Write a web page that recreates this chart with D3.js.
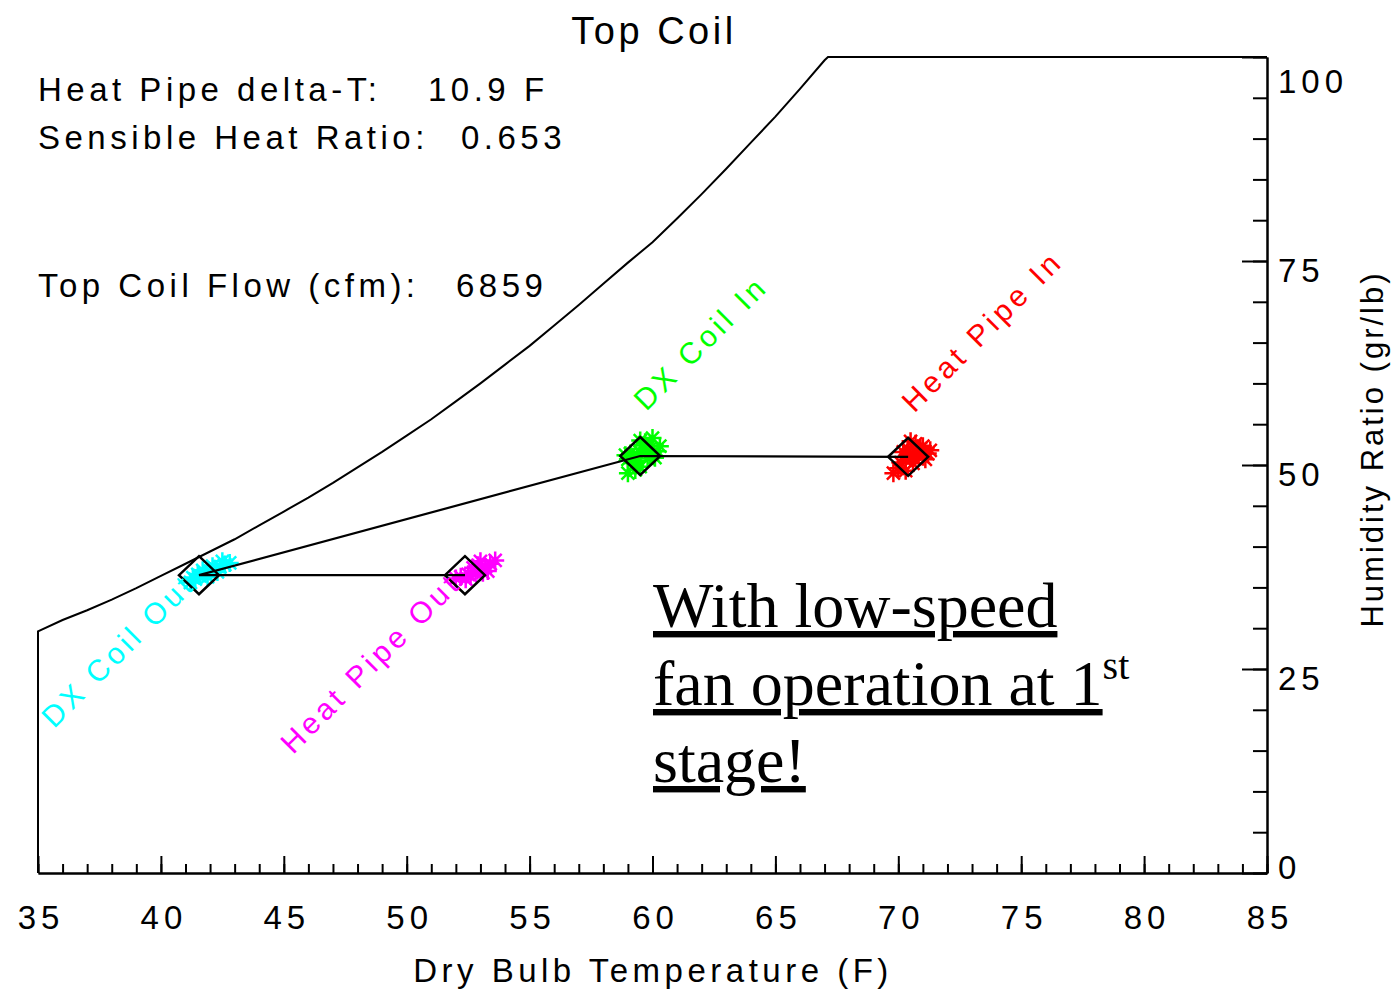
<!DOCTYPE html>
<html>
<head>
<meta charset="utf-8">
<script src="https://cdn.jsdelivr.net/npm/d3@7"></script>
<style>
  body { margin: 0; background: #fff; }
  svg text { font-family: "Liberation Sans", Arial, sans-serif; fill: #000; }
</style>
</head>
<body>
<div id="chart"></div>
<script>
// saturation curve (dry bulb F, gr/lb)
const satTemps = [35, 36, 37, 38, 39, 40, 41, 42, 43, 44, 45, 46, 47, 48, 49, 50, 51,
  52, 53, 54, 55, 56, 57, 58, 59, 60, 61, 62, 63, 64, 65, 66, 67, 67.14];
const satHumid = [29.6, 31.0, 32.2, 33.5, 34.9, 36.4, 37.9, 39.4, 40.9, 42.6, 44.3, 46.0,
  47.8, 49.7, 51.6, 53.6, 55.6, 57.8, 60.0, 62.3, 64.6, 67.1, 69.6, 72.2, 74.8, 77.3,
  80.2, 83.2, 86.3, 89.5, 92.7, 96.1, 99.6, 100];

// state points
const pointNames = ['Heat Pipe In', 'DX Coil In', 'DX Coil Out', 'Heat Pipe Out'];
const pointTemps = [70.4, 59.5, 41.55, 52.37];
const pointHumid = [51.0, 51.1, 36.5, 36.5];
const pointColors = ['#ff0000', '#00ff00', '#00ffff', '#ff00ff'];

// individual readings around each state point
const readingsHeatPipeIn = [[70.5, 51.2], [70.8, 51.5], [71.0, 51.0], [70.3, 50.6], [70.6, 50.2],
  [71.2, 51.4], [70.9, 52.0], [70.2, 51.6], [70.0, 49.6], [69.8, 49.0], [70.7, 52.6],
  [71.1, 50.7], [70.4, 51.9], [70.6, 50.9], [70.1, 50.3], [71.3, 51.8], [70.5, 52.9],
  [70.3, 49.3], [71.0, 52.3]];
const readingsDxIn = [[59.2, 51.0], [59.5, 51.6], [59.8, 50.8], [59.4, 50.5], [59.7, 51.9],
  [59.1, 51.4], [60.0, 51.3], [59.6, 52.4], [59.3, 50.2], [59.9, 52.0], [59.0, 50.7],
  [60.2, 51.7], [59.5, 49.8], [59.7, 52.8], [58.9, 51.2], [60.1, 50.9], [59.0, 49.0],
  [60.0, 53.3], [59.5, 53.0], [59.3, 49.4], [60.3, 52.3]];
const readingsDxOut = [[41.2, 35.6], [41.4, 36.0], [41.6, 36.4], [41.8, 36.7], [42.0, 37.0],
  [42.2, 37.3], [42.4, 37.5], [42.6, 37.8], [42.8, 38.0], [41.5, 36.6], [41.9, 36.3],
  [42.3, 36.9], [41.7, 37.1], [42.1, 37.6], [41.3, 36.2], [42.5, 38.2]];
const readingsHpOut = [[52.2, 36.3], [52.5, 36.6], [52.8, 36.9], [53.0, 37.2], [53.2, 37.5],
  [53.4, 37.9], [53.6, 38.3], [52.4, 36.0], [52.7, 37.4], [53.1, 36.8], [52.9, 37.7],
  [52.0, 36.1], [52.6, 36.4], [53.3, 37.0], [53.0, 38.2]];
const readings = [readingsHeatPipeIn, readingsDxIn, readingsDxOut, readingsHpOut];

// process path: heat pipe in -> dx in -> dx out -> heat pipe out
const processOrder = [0, 1, 2, 3];

// axes
const xMajorTicks = [35, 40, 45, 50, 55, 60, 65, 70, 75, 80, 85];
const xMinorTicks = d3.range(35, 86, 1);
const yMajorTicks = [0, 25, 50, 75, 100];
const yMinorTicks = d3.range(0, 101, 5);

const infoLabels = ['Heat Pipe delta-T:', 'Sensible Heat Ratio:', 'Top Coil Flow (cfm):'];
const infoValues = ['10.9 F', '0.653', '6859'];

const W = 1395, H = 990;
const svg = d3.select('#chart').append('svg').attr('width', W).attr('height', H);

const x = d3.scaleLinear().domain([35, 85]).range([38, 1267]);
const y = d3.scaleLinear().domain([0, 100]).range([873, 57]);

//Bottom axis, ticks pointing in
const gx = svg.append('g').attr('transform', 'translate(0,' + y(0) + ')');
gx.call(d3.axisBottom(x).tickValues(xMinorTicks).tickSize(-9).tickSizeOuter(0).tickFormat(''));
gx.append('g').call(d3.axisBottom(x).tickValues(xMajorTicks).tickSize(-17).tickSizeOuter(0)
  .tickPadding(33).tickFormat(d3.format('d')));

//Right axis
const gy = svg.append('g').attr('transform', 'translate(' + x(85) + ',0)');
gy.call(d3.axisRight(y).tickValues(yMinorTicks).tickSize(-14).tickSizeOuter(0).tickFormat(''));
gy.append('g').call(d3.axisRight(y).tickValues(yMajorTicks).tickSize(-25).tickSizeOuter(0)
  .tickPadding(11).tickFormat(d3.format('d')));

svg.selectAll('.domain').attr('stroke', '#000').attr('stroke-width', 2);
svg.selectAll('.tick line').attr('stroke', '#000').attr('stroke-width', 2);
svg.selectAll('.tick text')
  .attr('fill', '#000')
  .style('font-family', '"Liberation Sans", Arial, sans-serif')
  .style('font-size', '33px')
  .style('letter-spacing', '5px');
gx.selectAll('.tick text').attr('dx', '2.5px');
// labels sit a little below their tick, the end ones kept inside the frame
gy.selectAll('.tick text').attr('dy', null).attr('y', d => {
  const c = Math.max(80, Math.min(866, y(d) + 8));
  return c - y(d) + 12;
});

// chart frame: left edge, saturation curve, 100 gr/lb cap
const frame = [[35, 0]].concat(satTemps.map((t, i) => [t, satHumid[i]]), [[85, 100]]);
svg.append('path')
  .datum(frame)
  .attr('fill', 'none')
  .attr('stroke', '#000')
  .attr('stroke-width', 2)
  .attr('d', d3.line().x(d => x(d[0])).y(d => y(d[1])));

// readings as asterisks
const star = 'M-9,0L9,0M0,-9L0,9M-6.5,-6.5L6.5,6.5M-6.5,6.5L6.5,-6.5';
readings.forEach((set, k) => {
  svg.append('g').selectAll('path')
    .data(set)
    .join('path')
    .attr('transform', d => 'translate(' + x(d[0]) + ',' + y(d[1]) + ')')
    .attr('d', star)
    .attr('stroke', pointColors[k])
    .attr('stroke-width', 2.5)
    .attr('fill', 'none');
});

// process lines
svg.append('path')
  .datum(processOrder)
  .attr('fill', 'none')
  .attr('stroke', '#000')
  .attr('stroke-width', 2.2)
  .attr('d', d3.line().x(i => x(pointTemps[i])).y(i => y(pointHumid[i])));

// diamonds
svg.append('g').selectAll('path')
  .data(pointNames)
  .join('path')
  .attr('transform', (d, i) => 'translate(' + x(pointTemps[i]) + ',' + y(pointHumid[i]) + ')')
  .attr('d', 'M0,-19L20,0L0,19L-20,0Z')
  .attr('fill', 'none')
  .attr('stroke', '#000')
  .attr('stroke-width', 2.5);

// rotated point labels; "In" labels start above, "Out" labels end at the point
const labelOffset = { 'Heat Pipe In': [6, -43, 'start'], 'DX Coil In': [6, -44, 'start'],
  'DX Coil Out': [-2, 11, 'end'], 'Heat Pipe Out': [-2, 10, 'end'] };
svg.append('g').selectAll('text')
  .data(pointNames)
  .join('text')
  .attr('transform', (d, i) => 'translate(' + (x(pointTemps[i]) + labelOffset[d][0]) + ',' +
    (y(pointHumid[i]) + labelOffset[d][1]) + ') rotate(-45)')
  .attr('text-anchor', d => labelOffset[d][2])
  .style('font-size', '30px')
  .style('letter-spacing', '4px')
  .style('fill', (d, i) => pointColors[i])
  .text(d => d);

// title
svg.append('text')
  .attr('x', 654).attr('y', 44)
  .attr('text-anchor', 'middle')
  .style('font-size', '38px')
  .style('letter-spacing', '3.5px')
  .text('Top Coil');

// info block
const infoY = [101, 149, 297];
const infoValueX = [428, 461, 456];
infoLabels.forEach((t, i) => {
  svg.append('text').attr('x', 38).attr('y', infoY[i])
    .style('font-size', '33px').style('letter-spacing', '4.5px').text(t);
  svg.append('text').attr('x', infoValueX[i]).attr('y', infoY[i])
    .style('font-size', '33px').style('letter-spacing', '4.5px').text(infoValues[i]);
});

// axis titles
svg.append('text')
  .attr('x', 653).attr('y', 982)
  .attr('text-anchor', 'middle')
  .style('font-size', '33px')
  .style('letter-spacing', '4.5px')
  .text('Dry Bulb Temperature (F)');
svg.append('text')
  .attr('transform', 'translate(1383,449) rotate(-90)')
  .attr('text-anchor', 'middle')
  .style('font-size', '31px')
  .style('letter-spacing', '3px')
  .text('Humidity  Ratio  (gr/lb)');

// note
const note = svg.append('text')
  .style('font-family', '"Liberation Serif", "Times New Roman", serif')
  .style('font-size', '64px');
note.append('tspan').attr('x', 653).attr('y', 627)
  .style('text-decoration', 'underline').text('With low-speed');
note.append('tspan').attr('x', 653).attr('y', 705)
  .style('text-decoration', 'underline').text('fan operation at 1');
note.append('tspan').attr('dy', -26).style('font-size', '40px').text('st');
note.append('tspan').attr('x', 653).attr('y', 782)
  .style('text-decoration', 'underline').text('stage!');
</script>
</body>
</html>
